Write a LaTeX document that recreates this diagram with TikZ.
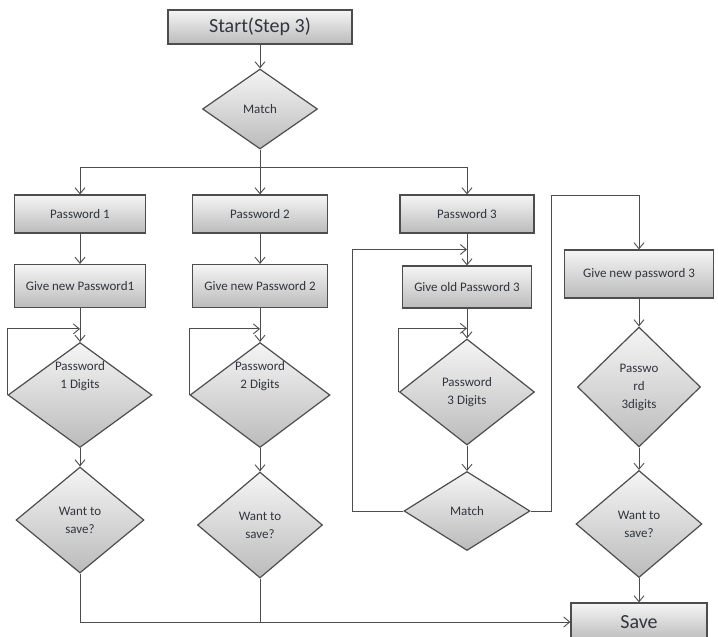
\documentclass[tikz,border=0pt]{standalone}
\usepackage{fontspec}
\setmainfont{Carlito}
\usetikzlibrary{shapes.geometric, arrows.meta, calc}
\definecolor{boxtop}{HTML}{F5F5F5}
\definecolor{boxbot}{HTML}{BBBBBB}
\definecolor{edge}{HTML}{4D4D4D}
\definecolor{ink}{HTML}{303540}
\tikzstyle{process} = [rectangle, draw=edge, line width=1.2pt, top color=boxtop, bottom color=boxbot, text=ink, font=\fontsize{13}{18}\selectfont, align=center]
\tikzstyle{decision} = [diamond, draw=edge, line width=1.2pt, top color=boxtop, bottom color=boxbot, text=ink, font=\fontsize{13}{18}\selectfont, align=center, inner sep=0pt]
\tikzstyle{txt} = [text=ink, font=\fontsize{13}{18}\selectfont, align=center]
\tikzstyle{arrow} = [line width=0.9pt, draw=edge, -{Straight Barb[length=6pt, width=10pt]}]
\tikzstyle{line} = [line width=0.9pt, draw=edge]

\begin{document}
\begin{tikzpicture}[x=1pt, y=-1pt]
\useasboundingbox (0,0) rectangle (718,637);

\node (start) [process, minimum width=184pt, minimum height=34pt, font=\fontsize{20}{22}\selectfont] at (260,27) {Start(Step 3)};
\node (match) [decision, minimum width=115pt, minimum height=80pt] at (260,109) {Match};
\coordinate (split) at (260,167);

\node (p1) [process, minimum width=131pt, minimum height=38pt] at (80,214) {Password 1};
\node (p2) [process, minimum width=135pt, minimum height=38pt] at (260,214) {Password 2};
\node (p3) [process, minimum width=134pt, minimum height=38pt] at (467,214) {Password 3};

\node (gn1) [process, minimum width=131pt, minimum height=43pt] at (80,286) {Give new Password1};
\node (gn2) [process, minimum width=135pt, minimum height=43pt] at (260,286) {Give new Password 2};
\node (go3) [process, minimum width=129pt, minimum height=42pt] at (467,287) {Give old Password 3};
\node (gn3) [process, minimum width=149pt, minimum height=48pt] at (639,274) {Give new password 3};

\node (d1) [decision, minimum width=144pt, minimum height=105pt] at (80,395) {};
\node (d1txt) [txt] at ([yshift=19pt]d1.center) {Password\\1 Digits};
\node (d2) [decision, minimum width=140pt, minimum height=105pt] at (260,395) {};
\node (d2txt) [txt] at ([yshift=19pt]d2.center) {Password\\2 Digits};
\node (d3) [decision, minimum width=135pt, minimum height=106pt] at (467,392) {Password\\3 Digits};
\node (d4) [decision, minimum width=123pt, minimum height=120pt] at (639,387) {Passwo\\rd\\3digits};

\node (ws1) [decision, minimum width=128pt, minimum height=106pt] at (80,520) {Want to\\save?};
\node (ws2) [decision, minimum width=125pt, minimum height=106pt] at (260,525) {Want to\\save?};
\node (m2) [decision, minimum width=126pt, minimum height=79pt] at (467,511) {Match};
\node (ws3) [decision, minimum width=126pt, minimum height=107pt] at (639,524) {Want to\\save?};

\node (save) [process, minimum width=136pt, minimum height=38pt, font=\fontsize{20}{22}\selectfont] at (639,622) {Save};

\coordinate (lp1) at ([yshift=13pt]d1.north);
\coordinate (lp2) at ([yshift=13pt]d2.north);
\coordinate (lp3) at ($(p3.south)!0.5!(go3.north)$);
\coordinate (lp4) at ([yshift=10pt]d3.north);
\coordinate (rt) at (551,195);

\draw [arrow] (start) -- (match);
\draw [line] (match) -- (split);
\draw [arrow] (split) -| (p1);
\draw [arrow] (split) -- (p2);
\draw [arrow] (split) -| (p3);

\draw [arrow] (p1) -- (gn1);
\draw [arrow] (gn1) -- (d1);
\draw [arrow] (d1.west) |- (lp1);
\draw [arrow] (d1) -- (ws1);
\draw [arrow] (ws1.south) |- (save.west);

\draw [arrow] (p2) -- (gn2);
\draw [arrow] (gn2) -- (d2);
\draw [arrow] (d2.west) |- (lp2);
\draw [arrow] (d2) -- (ws2);
\draw [line] (ws2.south) -- (ws2.south |- save.west);

\draw [arrow] (p3) -- (go3);
\draw [arrow] (m2.west) -| ([xshift=-115pt]lp3) -- (lp3);
\draw [arrow] (go3) -- (d3);
\draw [arrow] (d3.west) |- (lp4);
\draw [arrow] (d3) -- (m2);
\draw [arrow] (m2.east) -| (rt) -| (gn3);

\draw [arrow] (gn3) -- (d4);
\draw [arrow] (d4) -- (ws3);
\draw [arrow] (ws3) -- (save);

\end{tikzpicture}
\end{document}
